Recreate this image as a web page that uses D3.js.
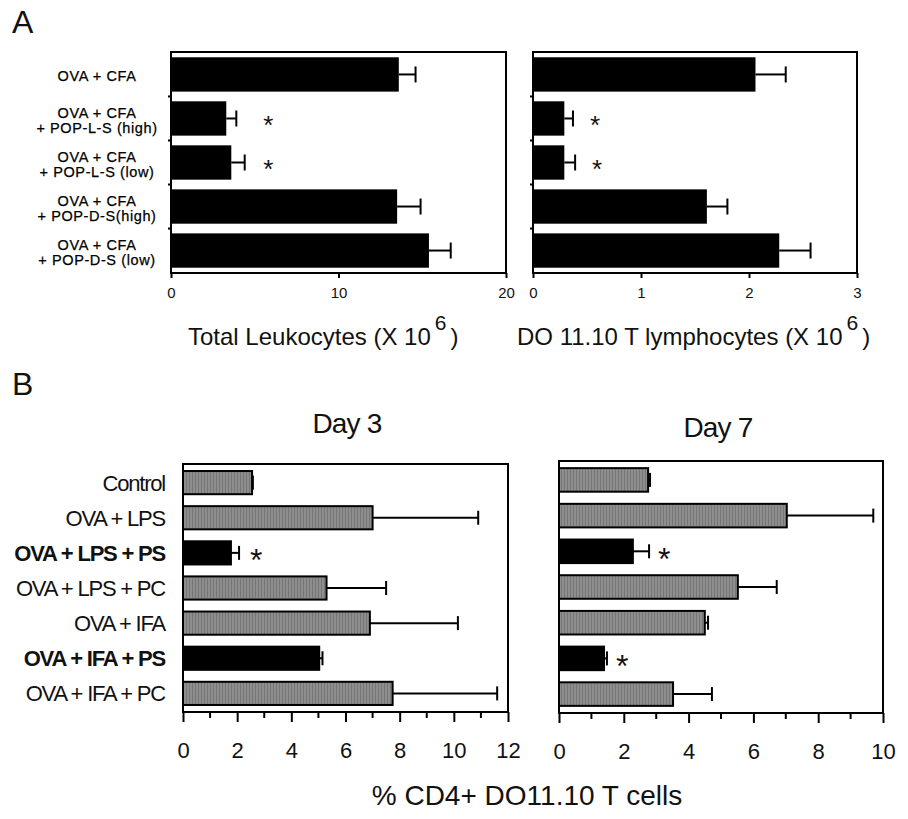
<!DOCTYPE html>
<html lang="en">
<head>
  <meta charset="UTF-8">
  <title>Leukocytes and DO11.10 T cells</title>
  <script src="https://d3js.org/d3.v7.min.js"></script>
  <style>
    body { margin: 0; background: #fff; }
    svg { font-family: "Liberation Sans", Arial, Helvetica, sans-serif; }
    .axis text { fill: #111; }
    .axis line { stroke: #000; stroke-width: 2px; }
  </style>
</head>
<body>
  <svg width="908" height="819"></svg>
  <script>
    // ---- panel A data ----
    var catsA = [
      ["OVA + CFA"],
      ["OVA + CFA", "+ POP-L-S (high)"],
      ["OVA + CFA", "+ POP-L-S (low)"],
      ["OVA + CFA", "+ POP-D-S(high)"],
      ["OVA + CFA", "+ POP-D-S (low)"]
    ];
    var leukocytes = [13.6, 3.3, 3.6, 13.5, 15.4];
    var leukocytesErr = [1.0, 0.6, 0.8, 1.4, 1.3];
    var doCells = [2.06, 0.29, 0.29, 1.61, 2.28];
    var doCellsErr = [0.28, 0.08, 0.10, 0.19, 0.29];
    var sigA = [false, true, true, false, false];
    var ticksLeuk = [0, 10, 20];
    var ticksDo = [0, 1, 2, 3];

    // ---- panel B data ----
    var catsB = ["Control", "OVA + LPS", "OVA + LPS + PS", "OVA + LPS + PC",
                 "OVA + IFA", "OVA + IFA + PS", "OVA + IFA + PC"];
    var treatedPS = [false, false, true, false, false, true, false];
    var day3 = [2.55, 7.0, 1.77, 5.3, 6.9, 5.03, 7.74];
    var day3Err = [0.03, 3.9, 0.3, 2.2, 3.25, 0.12, 3.86];
    var day7 = [2.75, 7.03, 2.28, 5.52, 4.5, 1.39, 3.52];
    var day7Err = [0.06, 2.67, 0.5, 1.2, 0.1, 0.09, 1.2];
    var ticksDay3 = [0, 2, 4, 6, 8, 10, 12];
    var ticksDay7 = [0, 2, 4, 6, 8, 10];

    var svg = d3.select("svg");

    // striped gray fill of the panel B bars
    var pat = svg.append("defs").append("pattern")
        .attr("id", "stripes")
        .attr("patternUnits", "userSpaceOnUse")
        .attr("width", 3).attr("height", 4);
    pat.append("rect").attr("width", 3).attr("height", 4).attr("fill", "#8e8e8e");
    pat.append("rect").attr("width", 1).attr("height", 4).attr("fill", "#767676");

    function panel(o) {
      var x = d3.scaleLinear().domain([0, o.max]).range([o.x0, o.x1]);
      var y = d3.scaleBand().domain(d3.range(o.values.length))
          .range([o.y0, o.y1]).paddingInner(o.padIn).paddingOuter(o.padOut);
      var g = svg.append("g");

      // bottom axis
      var ax = g.append("g")
          .attr("class", "axis")
          .attr("transform", "translate(0," + o.y1 + ")")
          .call(d3.axisBottom(x).tickValues(o.ticks).tickFormat(d3.format("d"))
                .tickSize(o.tickSize).tickPadding(o.tickPad).tickSizeOuter(0));
      ax.select(".domain").remove();
      ax.selectAll("text").style("font-size", o.tickFont + "px").attr("font-family", null);

      if (o.minor) {
        g.selectAll("line.minor").data(o.minor).join("line")
          .attr("class", "minor")
          .attr("x1", function(d) { return x(d); }).attr("x2", function(d) { return x(d); })
          .attr("y1", o.y1).attr("y2", o.y1 + 6)
          .attr("stroke", "#000").attr("stroke-width", 2);
      }

      // bars
      g.selectAll("rect.bar").data(o.values).join("rect")
        .attr("class", "bar")
        .attr("x", x(0))
        .attr("y", function(d, i) { return y(i); })
        .attr("width", function(d) { return x(d) - x(0); })
        .attr("height", y.bandwidth())
        .attr("fill", function(d, i) { return o.fill(i); })
        .attr("stroke", "#000")
        .attr("stroke-width", o.barStroke);

      // error bars
      var cy = function(i) { return y(i) + y.bandwidth() / 2; };
      o.values.forEach(function(v, i) {
        var e = v + o.err[i];
        g.append("line")
          .attr("x1", x(v)).attr("x2", x(e))
          .attr("y1", cy(i)).attr("y2", cy(i))
          .attr("stroke", "#000").attr("stroke-width", 2);
        g.append("line")
          .attr("x1", x(e)).attr("x2", x(e))
          .attr("y1", cy(i) - o.cap / 2).attr("y2", cy(i) + o.cap / 2)
          .attr("stroke", "#000").attr("stroke-width", 2);
        if (o.sig[i]) {
          g.append("text")
            .attr("x", o.starX ? o.starX(x) : x(e) + o.starGap)
            .attr("y", cy(i) + o.starSize * 0.58)
            .attr("font-size", o.starSize)
            .attr("fill", "#111")
            .text("*");
        }
      });

      // frame
      g.append("rect")
        .attr("x", o.x0).attr("y", o.y0)
        .attr("width", o.x1 - o.x0).attr("height", o.y1 - o.y0)
        .attr("fill", "none").attr("stroke", "#000").attr("stroke-width", 2);

      return { x: x, y: y, g: g };
    }

    // ---------- A ----------
    var aLeft = panel({
      values: leukocytes, err: leukocytesErr, sig: sigA, max: 20, ticks: ticksLeuk,
      x0: 171, x1: 506, y0: 52, y1: 273, padIn: 0.22, padOut: 0.12,
      tickSize: 5, tickPad: 9, tickFont: 15, cap: 16, barStroke: 0,
      fill: function() { return "#000"; },
      starSize: 26, starX: function(x) { return x(5.5); }
    });
    panel({
      values: doCells, err: doCellsErr, sig: sigA, max: 3, ticks: ticksDo,
      x0: 533, x1: 857, y0: 52, y1: 273, padIn: 0.22, padOut: 0.12,
      tickSize: 5, tickPad: 9, tickFont: 15, cap: 16, barStroke: 0,
      fill: function() { return "#000"; },
      starSize: 26, starGap: 17
    });

    // small ticks on the left edge between categories
    [171, 533].forEach(function(xe) {
      var yb = aLeft.y;
      d3.range(1, catsA.length).forEach(function(i) {
        var yy = (yb(i - 1) + yb.bandwidth() + yb(i)) / 2;
        svg.append("line")
          .attr("x1", xe - 3).attr("x2", xe)
          .attr("y1", yy).attr("y2", yy)
          .attr("stroke", "#000").attr("stroke-width", 2);
      });
    });

    // category labels of panel A
    catsA.forEach(function(lines, i) {
      var c = aLeft.y(i) + aLeft.y.bandwidth() / 2 + 2;
      var t = svg.append("text")
        .attr("x", 97).attr("text-anchor", "middle")
        .attr("font-size", 14.5).attr("letter-spacing", 0.6).attr("fill", "#000")
        .attr("stroke", "#000").attr("stroke-width", 0.25);
      lines.forEach(function(s, j) {
        t.append("tspan")
          .attr("x", 97)
          .attr("y", c + (j - (lines.length - 1) / 2) * 15 + 5)
          .text(s);
      });
    });

    function title(x, y, s) {
      var t = svg.append("text").attr("x", x).attr("y", y)
        .attr("font-size", 24).attr("fill", "#111");
      t.append("tspan").text(s);
      t.append("tspan").attr("dx", 4).attr("dy", -15).attr("font-size", 21).text("6");
      t.append("tspan").attr("dx", 4).attr("dy", 15).text(")");
    }
    title(188, 345, "Total Leukocytes (X 10");
    title(517, 345, "DO 11.10 T lymphocytes (X 10");

    // ---------- B ----------
    var fillB = function(i) { return treatedPS[i] ? "#000" : "url(#stripes)"; };
    var bLeft = panel({
      values: day3, err: day3Err, sig: treatedPS.map(function(d, i) { return d && i === 2; }),
      max: 12, ticks: ticksDay3, minor: [1, 3, 5, 7, 9, 11],
      x0: 183, x1: 508, y0: 464, y1: 712, padIn: 0.34, padOut: 0.2,
      tickSize: 10, tickPad: 20, tickFont: 22, cap: 14, barStroke: 2,
      fill: fillB, starSize: 32, starGap: 11
    });
    panel({
      values: day7, err: day7Err, sig: treatedPS,
      max: 10, ticks: ticksDay7, minor: [1, 3, 5, 7, 9],
      x0: 559, x1: 883, y0: 461, y1: 713, padIn: 0.34, padOut: 0.2,
      tickSize: 10, tickPad: 20, tickFont: 22, cap: 14, barStroke: 2,
      fill: fillB, starSize: 32, starGap: 9
    });

    catsB.forEach(function(s, i) {
      svg.append("text")
        .attr("x", 165)
        .attr("y", bLeft.y(i) + bLeft.y.bandwidth() / 2)
        .attr("dy", "0.36em")
        .attr("text-anchor", "end")
        .attr("font-size", 22)
        .attr("letter-spacing", -1.2)
        .attr("font-weight", treatedPS[i] ? "bold" : "normal")
        .attr("fill", "#111")
        .text(s);
    });

    svg.append("text").attr("x", 347).attr("y", 433).attr("text-anchor", "middle")
      .attr("font-size", 28).attr("letter-spacing", -0.8).attr("fill", "#111").text("Day 3");
    svg.append("text").attr("x", 718).attr("y", 437).attr("text-anchor", "middle")
      .attr("font-size", 28).attr("letter-spacing", -0.8).attr("fill", "#111").text("Day 7");
    svg.append("text").attr("x", 527).attr("y", 805).attr("text-anchor", "middle")
      .attr("font-size", 28).attr("fill", "#111").text("% CD4+ DO11.10 T cells");

    // panel letters
    svg.append("text").attr("x", 12).attr("y", 33).attr("font-size", 32).attr("fill", "#111").text("A");
    svg.append("text").attr("x", 12).attr("y", 395).attr("font-size", 32).attr("fill", "#111").text("B");
  </script>
</body>
</html>
